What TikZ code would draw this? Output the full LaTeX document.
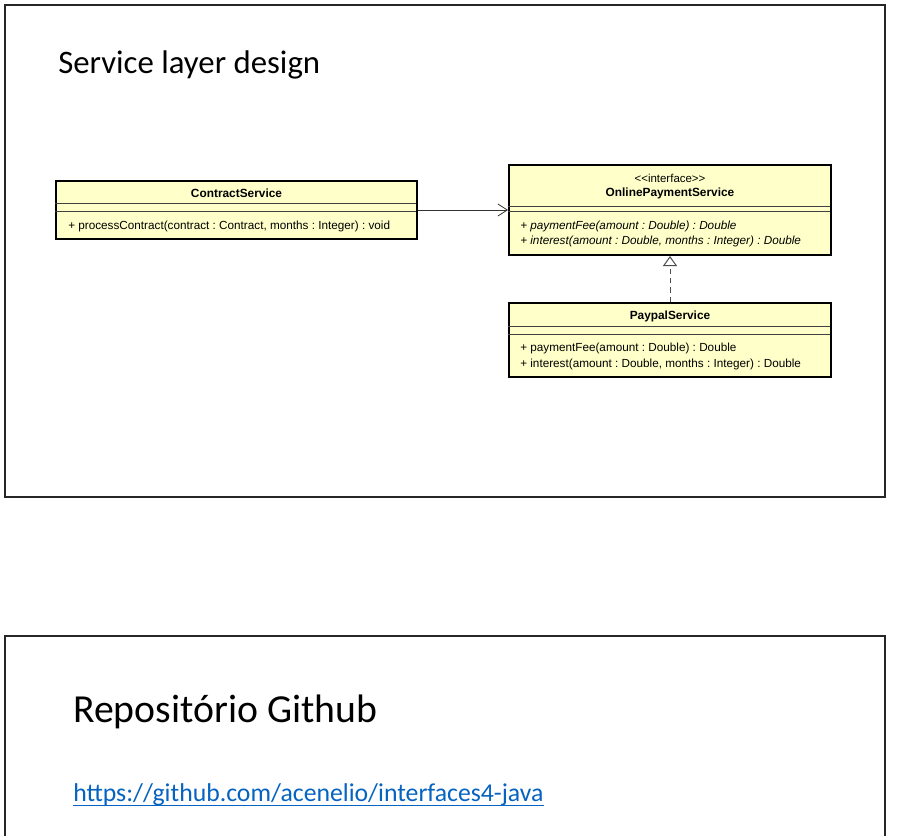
\documentclass[tikz,border=0pt]{standalone}
\usepackage{fontspec}
\setmainfont{Carlito}
\newfontfamily\umlfont{Liberation Sans}
\usetikzlibrary{arrows.meta}
\definecolor{umlfill}{HTML}{FFFFC9}
\definecolor{urlblue}{HTML}{0563C1}
\frenchspacing
\begin{document}
\begin{tikzpicture}[x=0.75pt,y=-0.75pt,
  frame/.style={draw=black!85, line width=1.1pt},
  umlbox/.style={draw=black, line width=1.5pt, fill=umlfill, inner sep=0pt, rectangle},
  sepline/.style={draw=black!75, line width=0.75pt},
  umltitle/.style={font=\umlfont\fontsize{8.9}{10}\selectfont\bfseries, inner sep=0pt},
  umlstereo/.style={font=\umlfont\fontsize{8.6}{10}\selectfont, inner sep=0pt},
  umltext/.style={font=\umlfont\fontsize{8.8}{10}\selectfont, inner sep=0pt, anchor=west},
  umlitalic/.style={font=\umlfont\fontsize{8.8}{10}\selectfont\itshape, inner sep=0pt, anchor=west},
  slidetitle/.style={font=\fontsize{24.6}{28}\selectfont, inner sep=0pt, anchor=base west},
  slidetitleb/.style={font=\fontsize{29.8}{34}\selectfont, inner sep=0pt, anchor=base west},
  urltext/.style={font=\fontsize{19.3}{22}\selectfont, text=urlblue, inner sep=0pt, anchor=base west}]
\useasboundingbox (0,0) rectangle (901,836);
\fill[white] (0,0) rectangle (901,836);
% slide frames
\draw[frame] (5,5) rectangle (885,497);
\draw[frame] (5,845) -- (5,636) -- (885,636) -- (885,845);
% titles
\node[slidetitle] (t1) at (58,73) {Service layer design};
\node[slidetitleb] (t2) at (73,722) {Repositório Github};
\node[urltext] (url) at (73,801) {https://github.com/acenelio/interfaces4-java};
\draw[urlblue, line width=1pt] ([yshift=-3.2pt]url.base west) -- ([yshift=-3.2pt]url.base east);
% ContractService
\node[umlbox, minimum width=270.75pt, minimum height=43.5pt] (cs) at (236.5,210) {};
\draw[sepline] (cs.north west) ++(0,23) -- ++(361,0);
\draw[sepline] (cs.north west) ++(0,31) -- ++(361,0);
\node[umltitle] (cst) at (236.5,193.5) {ContractService};
\node[umltext] (csm) at (68,226.5) {+ processContract(contract : Contract, months : Integer) : void};
% OnlinePaymentService
\node[umlbox, minimum width=241.5pt, minimum height=67.5pt] (ops) at (670,210) {};
\draw[sepline] (ops.north west) ++(0,42) -- ++(322,0);
\draw[sepline] (ops.north west) ++(0,47) -- ++(322,0);
\node[umlstereo] (opss) at (670,178) {<<interface>>};
\node[umltitle] (opst) at (670,193.5) {OnlinePaymentService};
\node[umlitalic] (opsm1) at (520,226) {+ paymentFee(amount : Double) : Double};
\node[umlitalic] (opsm2) at (520,241.5) {+ interest(amount : Double, months : Integer) : Double};
% PaypalService
\node[umlbox, minimum width=241.5pt, minimum height=55.5pt] (pp) at (670,340) {};
\draw[sepline] (pp.north west) ++(0,24) -- ++(322,0);
\draw[sepline] (pp.north west) ++(0,32) -- ++(322,0);
\node[umltitle] (ppt) at (670,316.5) {PaypalService};
\node[umltext] (ppm1) at (520,348.5) {+ paymentFee(amount : Double) : Double};
\node[umltext] (ppm2) at (520,364) {+ interest(amount : Double, months : Integer) : Double};
% connectors
\draw[black!80, line width=0.6pt, -{Straight Barb[length=7pt,width=9pt]}] (cs.east) -- (ops.west);
\draw[black!70, line width=0.75pt, dash pattern=on 4pt off 3pt, -{Triangle[open, length=7.5pt, width=10.5pt, line width=0.75pt]}] (pp.north) -- (ops.south);
\end{tikzpicture}
\end{document}
